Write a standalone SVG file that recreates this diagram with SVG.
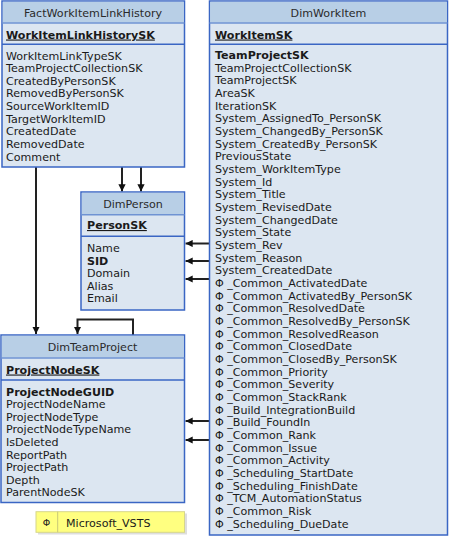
<svg xmlns="http://www.w3.org/2000/svg" width="450" height="542" viewBox="0 0 450 542">
<style>
.box{fill:#DCE6F1;stroke:#3A66C4;stroke-width:1.5}
.hdr{fill:#B8CFE6}
.sep1{stroke:#6F93D3;stroke-width:1.5}
.sep2{stroke:#3A66C4;stroke-width:1.5}
text{font-family:"DejaVu Sans","Verdana",sans-serif;font-size:11.1px;fill:#1a1a1a}
.title{text-anchor:middle;fill:#2a2a2a}
.key{font-weight:bold;text-decoration:underline}
.b{font-weight:bold}
.conn{stroke:#222;stroke-width:2;fill:none}
</style>
<defs>
<marker id="ah" viewBox="0 0 10 10" refX="10" refY="5" markerWidth="3.6" markerHeight="3.6" orient="auto" markerUnits="strokeWidth">
<path d="M0,0 L10,5 L0,10 Z" fill="#111"/>
</marker>
</defs>
<rect width="450" height="542" fill="#fff"/>

<g id="connectors">
<path class="conn" d="M36,167 V334" marker-end="url(#ah)"/>
<path class="conn" d="M122,167 V191.5" marker-end="url(#ah)"/>
<path class="conn" d="M141,167 V191.5" marker-end="url(#ah)"/>
<path class="conn" d="M133,335 V319.5 H77.5 V334" marker-end="url(#ah)"/>
<path class="conn" d="M209,243.5 H185.5" marker-end="url(#ah)"/>
<path class="conn" d="M209,261 H185.5" marker-end="url(#ah)"/>
<path class="conn" d="M209,279 H185.5" marker-end="url(#ah)"/>
<path class="conn" d="M209,421 H185.5" marker-end="url(#ah)"/>
<path class="conn" d="M209,440 H185.5" marker-end="url(#ah)"/>
</g>

<g id="FactWorkItemLinkHistory">
<rect class="box" x="2" y="1" width="182.5" height="166"/>
<rect class="hdr" x="2.75" y="1.75" width="181" height="21"/>
<line class="sep1" x1="2" y1="23" x2="184.5" y2="23"/>
<line class="sep2" x1="2" y1="44.3" x2="184.5" y2="44.3"/>
<text class="title" x="93" y="16.5">FactWorkItemLinkHistory</text>
<text class="key" x="6" y="38.5">WorkItemLinkHistorySK</text>
<text x="6" y="59.5">WorkItemLinkTypeSK</text>
<text x="6" y="72.15">TeamProjectCollectionSK</text>
<text x="6" y="84.8">CreatedByPersonSK</text>
<text x="6" y="97.45">RemovedByPersonSK</text>
<text x="6" y="110.1">SourceWorkItemID</text>
<text x="6" y="122.75">TargetWorkItemID</text>
<text x="6" y="135.4">CreatedDate</text>
<text x="6" y="148.05">RemovedDate</text>
<text x="6" y="160.7">Comment</text>
</g>

<g id="DimPerson">
<rect class="box" x="81" y="192" width="103.5" height="118"/>
<rect class="hdr" x="81.75" y="192.75" width="102" height="21.5"/>
<line class="sep1" x1="81" y1="214.7" x2="184.5" y2="214.7"/>
<line class="sep2" x1="81" y1="236.3" x2="184.5" y2="236.3"/>
<text class="title" x="133" y="207.5">DimPerson</text>
<text class="key" x="87" y="229">PersonSK</text>
<text x="87" y="252">Name</text>
<text class="b" x="87" y="264.5">SID</text>
<text x="87" y="277">Domain</text>
<text x="87" y="289.5">Alias</text>
<text x="87" y="302">Email</text>
</g>

<g id="DimTeamProject">
<rect class="box" x="1" y="335" width="183.5" height="167.5"/>
<rect class="hdr" x="1.75" y="335.75" width="182" height="22"/>
<line class="sep1" x1="1" y1="358" x2="184.5" y2="358"/>
<line class="sep2" x1="1" y1="380" x2="184.5" y2="380"/>
<text class="title" x="92.5" y="351">DimTeamProject</text>
<text class="key" x="6" y="373.5">ProjectNodeSK</text>
<text class="b" x="6" y="395.5">ProjectNodeGUID</text>
<text x="6" y="408.1">ProjectNodeName</text>
<text x="6" y="420.7">ProjectNodeType</text>
<text x="6" y="433.3">ProjectNodeTypeName</text>
<text x="6" y="445.9">IsDeleted</text>
<text x="6" y="458.5">ReportPath</text>
<text x="6" y="471.1">ProjectPath</text>
<text x="6" y="483.7">Depth</text>
<text x="6" y="496.3">ParentNodeSK</text>
</g>

<g id="DimWorkItem">
<rect class="box" x="209.5" y="1" width="238" height="534"/>
<rect class="hdr" x="210.25" y="1.75" width="236.5" height="21"/>
<line class="sep1" x1="209.5" y1="23" x2="447.5" y2="23"/>
<line class="sep2" x1="209.5" y1="44.3" x2="447.5" y2="44.3"/>
<text class="title" x="328.5" y="16.5">DimWorkItem</text>
<text class="key" x="215" y="38.5">WorkItemSK</text>
<text class="b" x="215" y="59">TeamProjectSK</text>
<text x="215" y="71.67">TeamProjectCollectionSK</text>
<text x="215" y="84.34">TeamProjectSK</text>
<text x="215" y="97.01">AreaSK</text>
<text x="215" y="109.68">IterationSK</text>
<text x="215" y="122.35">System_AssignedTo_PersonSK</text>
<text x="215" y="135.02">System_ChangedBy_PersonSK</text>
<text x="215" y="147.69">System_CreatedBy_PersonSK</text>
<text x="215" y="160.36">PreviousState</text>
<text x="215" y="173.03">System_WorkItemType</text>
<text x="215" y="185.7">System_Id</text>
<text x="215" y="198.37">System_Title</text>
<text x="215" y="211.04">System_RevisedDate</text>
<text x="215" y="223.71">System_ChangedDate</text>
<text x="215" y="236.38">System_State</text>
<text x="215" y="249.05">System_Rev</text>
<text x="215" y="261.72">System_Reason</text>
<text x="215" y="274.39">System_CreatedDate</text>
<text x="215" y="287.06">Φ _Common_ActivatedDate</text>
<text x="215" y="299.73">Φ _Common_ActivatedBy_PersonSK</text>
<text x="215" y="312.4">Φ _Common_ResolvedDate</text>
<text x="215" y="325.07">Φ _Common_ResolvedBy_PersonSK</text>
<text x="215" y="337.74">Φ _Common_ResolvedReason</text>
<text x="215" y="350.41">Φ _Common_ClosedDate</text>
<text x="215" y="363.08">Φ _Common_ClosedBy_PersonSK</text>
<text x="215" y="375.75">Φ _Common_Priority</text>
<text x="215" y="388.42">Φ _Common_Severity</text>
<text x="215" y="401.09">Φ _Common_StackRank</text>
<text x="215" y="413.76">Φ _Build_IntegrationBuild</text>
<text x="215" y="426.43">Φ _Build_FoundIn</text>
<text x="215" y="439.1">Φ _Common_Rank</text>
<text x="215" y="451.77">Φ _Common_Issue</text>
<text x="215" y="464.44">Φ _Common_Activity</text>
<text x="215" y="477.11">Φ _Scheduling_StartDate</text>
<text x="215" y="489.78">Φ _Scheduling_FinishDate</text>
<text x="215" y="502.45">Φ _TCM_AutomationStatus</text>
<text x="215" y="515.12">Φ _Common_Risk</text>
<text x="215" y="527.79">Φ _Scheduling_DueDate</text>
</g>

<g id="legend">
<rect x="38" y="513.5" width="149" height="21" fill="#c8c8c8" opacity="0.6"/>
<rect x="36" y="511.7" width="148.5" height="20.6" fill="#FFFF80" stroke="#D6D68A" stroke-width="1"/>
<line x1="57.7" y1="511.7" x2="57.7" y2="532.3" stroke="#C8C878" stroke-width="1"/>
<text x="46.5" y="525.5" style="font-size:9.5px;text-anchor:middle">Φ</text>
<text x="66" y="526.5">Microsoft_VSTS</text>
</g>
</svg>
